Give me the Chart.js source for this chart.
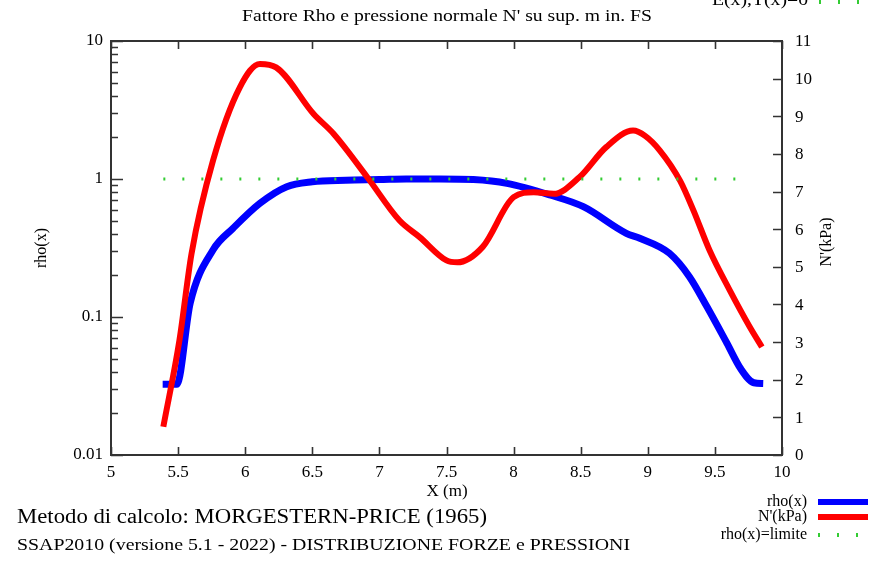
<!DOCTYPE html>
<html>
<head>
<meta charset="utf-8">
<script src="https://cdn.jsdelivr.net/npm/chart.js@4/dist/chart.umd.min.js"></script>
<style>
html,body{margin:0;padding:0;background:#fff;}
canvas{display:block;}
</style>
</head>
<body>
<canvas id="c" width="870" height="565"></canvas>
<script>
// ---- data ----
const xRho = [5.385, 5.49, 5.59, 5.76, 5.91, 6.11, 6.31, 6.50, 6.75, 7.0, 7.2, 7.45, 7.7, 7.95, 8.27, 8.52, 8.84, 8.94, 9.16, 9.31, 9.44, 9.59, 9.69, 9.79, 9.86];
const rhoValues = [0.0325, 0.0325, 0.126, 0.306, 0.44, 0.667, 0.88, 0.955, 0.98, 0.99, 1.0, 1.0, 0.99, 0.93, 0.766, 0.63, 0.404, 0.372, 0.29, 0.196, 0.119, 0.0645, 0.0425, 0.0334, 0.033];
const xN = [5.39, 5.51, 5.60, 5.76, 5.96, 6.11, 6.23, 6.51, 6.66, 6.91, 7.15, 7.30, 7.50, 7.58, 7.77, 8.0, 8.15, 8.30, 8.49, 8.69, 8.89, 8.98, 9.09, 9.24, 9.34, 9.46, 9.61, 9.76, 9.85];
const nValues = [0.75, 3.05, 5.35, 7.82, 9.77, 10.39, 10.30, 9.06, 8.53, 7.38, 6.23, 5.79, 5.17, 5.12, 5.53, 6.85, 6.98, 6.94, 7.38, 8.18, 8.62, 8.48, 8.09, 7.29, 6.50, 5.44, 4.38, 3.40, 2.87];
const xLimit = [5.39, 9.77];
const rhoLimit = [1, 1];

const xTicks = [5, 5.5, 6, 6.5, 7, 7.5, 8, 8.5, 9, 9.5, 10];
const xTickLabels = ['5', '5.5', '6', '6.5', '7', '7.5', '8', '8.5', '9', '9.5', '10'];
const rhoTicks = [0.01, 0.1, 1, 10];
const rhoTickLabels = ['0.01', '0.1', '1', '10'];
const nTicks = [0, 1, 2, 3, 4, 5, 6, 7, 8, 9, 10, 11];
const nTickLabels = ['0', '1', '2', '3', '4', '5', '6', '7', '8', '9', '10', '11'];

const titleText = "Fattore Rho e pressione normale N' su sup. m in. FS";
const xTitle = 'X (m)';
const yTitle = 'rho(x)';
const y2Title = "N'(kPa)";
const legendLabels = ['rho(x)', "N'(kPa)", 'rho(x)=limite'];
const topLegendLabel = 'E(x),T(x)=0';
const footer1 = 'Metodo di calcolo: MORGESTERN-PRICE (1965)';
const footer2 = 'SSAP2010 (versione 5.1 - 2022) - DISTRIBUZIONE FORZE e PRESSIONI';

const BLUE = '#0000ff', RED = '#ff0000', GREEN = '#33cc33';
const FONT = '"Liberation Serif", "Times New Roman", serif';

function pts(xs, ys) { return xs.map((x, i) => ({x: x, y: ys[i]})); }

function txt(ctx, s, x, y, size, opts) {
  opts = opts || {};
  ctx.save();
  ctx.font = (opts.bold ? 'bold ' : '') + size + 'px ' + FONT;
  let sx = 1;
  if (opts.width) sx = opts.width / ctx.measureText(s).width;
  if (opts.sx) sx = opts.sx;
  ctx.translate(x, y);
  if (opts.rot) ctx.rotate(opts.rot);
  ctx.scale(sx, 1);
  ctx.textAlign = opts.align || 'left';
  ctx.textBaseline = opts.baseline || 'middle';
  ctx.fillStyle = opts.color || '#000';
  ctx.fillText(s, 0, 0);
  ctx.restore();
}

function dots(ctx, x0, x1, y, step) {
  ctx.save();
  ctx.fillStyle = GREEN;
  for (let x = x0; x <= x1; x += step) ctx.fillRect(x - 1, y - 2, 2, 4);
  ctx.restore();
}

const decor = {
  id: 'decor',
  afterDraw(chart) {
    const ctx = chart.ctx;
    const a = chart.chartArea;
    const sx = chart.scales.x, sy = chart.scales.y, sy2 = chart.scales.y2;
    ctx.save();
    ctx.strokeStyle = '#333';
    ctx.lineWidth = 2;
    ctx.strokeRect(a.left, a.top, a.right - a.left, a.bottom - a.top);
    ctx.beginPath();
    xTicks.forEach(v => {
      const p = Math.round(sx.getPixelForValue(v)) + 0.5;
      ctx.moveTo(p, a.bottom); ctx.lineTo(p, a.bottom - 8);
      ctx.moveTo(p, a.top); ctx.lineTo(p, a.top + 8);
    });
    for (let d = 0; d < rhoTicks.length; d++) {
      const base = rhoTicks[d];
      const p = Math.round(sy.getPixelForValue(base)) + 0.5;
      ctx.moveTo(a.left, p); ctx.lineTo(a.left + 12, p);
      if (d < rhoTicks.length - 1) {
        for (let m = 2; m <= 9; m++) {
          const q = Math.round(sy.getPixelForValue(base * m)) + 0.5;
          ctx.moveTo(a.left, q); ctx.lineTo(a.left + 7, q);
        }
      }
    }
    nTicks.forEach(v => {
      const p = Math.round(sy2.getPixelForValue(v)) + 0.5;
      ctx.moveTo(a.right, p); ctx.lineTo(a.right - 9, p);
    });
    ctx.lineWidth = 1.6;
    ctx.stroke();
    ctx.restore();

    xTicks.forEach((v, i) => txt(ctx, xTickLabels[i], sx.getPixelForValue(v), a.bottom + 18, 17, {align: 'center'}));
    rhoTicks.forEach((v, i) => txt(ctx, rhoTickLabels[i], a.left - 8, sy.getPixelForValue(v), 17, {align: 'right'}));
    nTicks.forEach((v, i) => txt(ctx, nTickLabels[i], a.right + 13, sy2.getPixelForValue(v) + 1, 17, {align: 'left'}));

    txt(ctx, xTitle, 447, 492, 17, {align: 'center'});
    txt(ctx, yTitle, 42, 248, 16, {align: 'center', rot: -Math.PI / 2});
    txt(ctx, y2Title, 827, 242, 16, {align: 'center', rot: -Math.PI / 2});

    txt(ctx, titleText, 447, 21, 17, {align: 'center', baseline: 'alphabetic', width: 410});
    txt(ctx, topLegendLabel, 808, 5, 16, {align: 'right', baseline: 'alphabetic', width: 96});
    dots(ctx, 820, 860, 2, 19);

    txt(ctx, legendLabels[0], 807, 502, 16, {align: 'right'});
    txt(ctx, legendLabels[1], 807, 517, 16, {align: 'right'});
    txt(ctx, legendLabels[2], 807, 535, 16, {align: 'right'});
    ctx.save();
    ctx.fillStyle = BLUE; ctx.fillRect(818, 499, 50, 6);
    ctx.fillStyle = RED; ctx.fillRect(818, 514, 50, 6);
    ctx.restore();
    dots(ctx, 819, 860, 535, 19);

    txt(ctx, footer1, 17, 523, 20, {baseline: 'alphabetic', width: 470});
    txt(ctx, footer2, 17, 550, 17.5, {baseline: 'alphabetic', width: 613});
  }
};

new Chart(document.getElementById('c'), {
  type: 'line',
  data: {
    datasets: [
      {
        label: legendLabels[2], data: pts(xLimit, rhoLimit), yAxisID: 'y',
        borderColor: GREEN, borderWidth: 3, borderDash: [2, 17], pointRadius: 0, order: 0
      },
      {
        label: legendLabels[1], data: pts(xN, nValues), yAxisID: 'y2',
        borderColor: RED, borderWidth: 6, pointRadius: 0, cubicInterpolationMode: 'monotone',
        borderJoinStyle: 'round', order: 1
      },
      {
        label: legendLabels[0], data: pts(xRho, rhoValues), yAxisID: 'y',
        borderColor: BLUE, borderWidth: 7, pointRadius: 0, cubicInterpolationMode: 'monotone',
        borderJoinStyle: 'round', order: 2
      }
    ]
  },
  options: {
    responsive: false,
    animation: false,
    devicePixelRatio: 1,
    layout: {padding: {left: 111, right: 88, top: 41, bottom: 110}},
    plugins: {legend: {display: false}, tooltip: {enabled: false}, title: {display: false}},
    scales: {
      x: {type: 'linear', min: 5, max: 10, display: false},
      y: {type: 'logarithmic', min: 0.01, max: 10, display: false},
      y2: {type: 'linear', min: 0, max: 11, display: false, position: 'right'}
    }
  },
  plugins: [decor]
});
</script>
</body>
</html>
